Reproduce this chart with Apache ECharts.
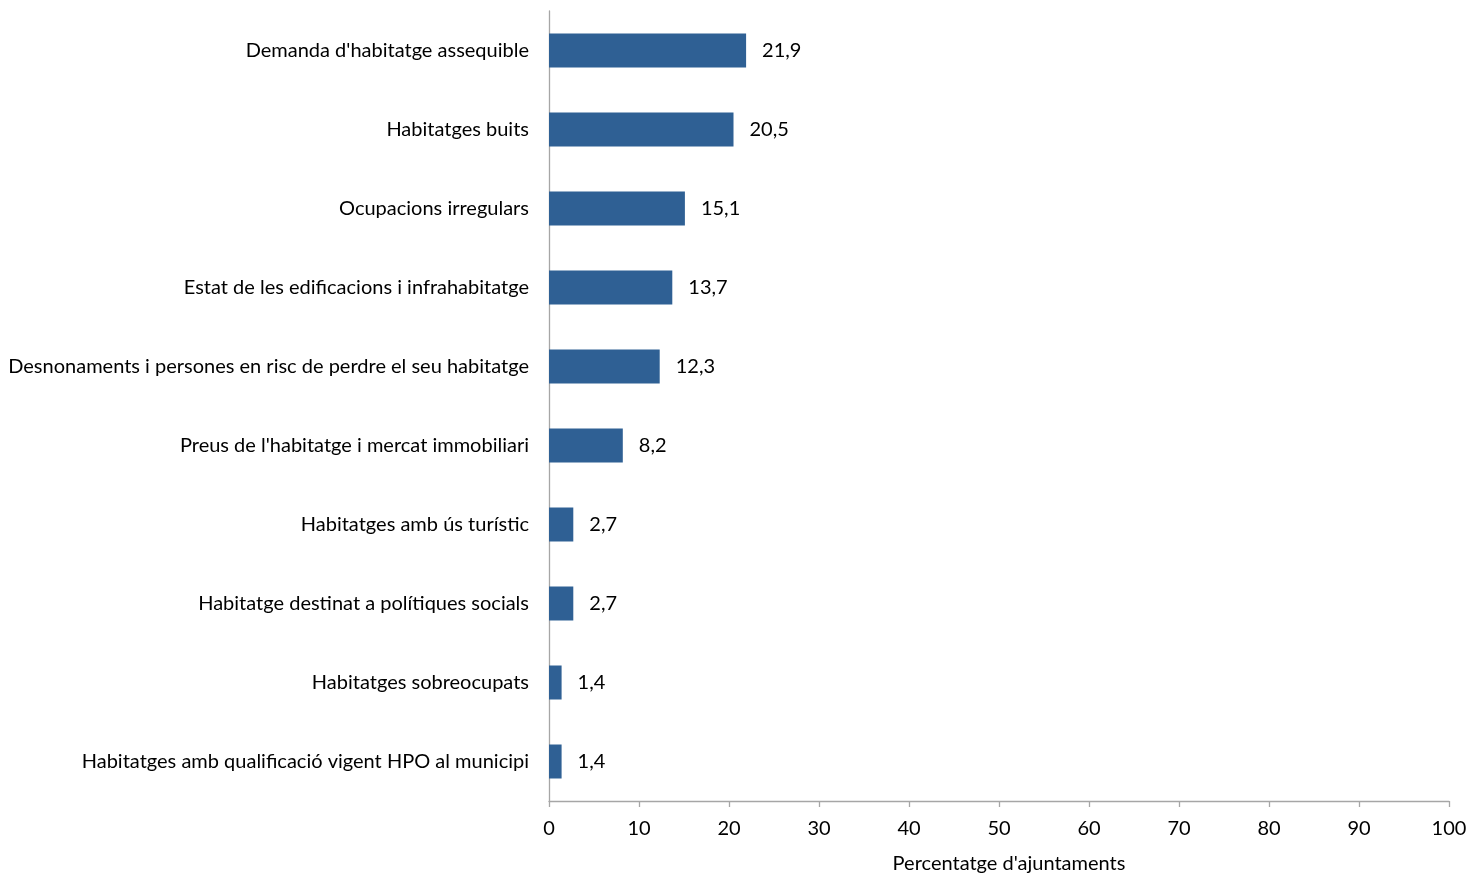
<!DOCTYPE html>
<html><head><meta charset="utf-8">
<script src="https://cdn.jsdelivr.net/npm/echarts@6/dist/echarts.min.js"></script>
<style>html,body{margin:0;padding:0;background:#fff}#c{width:1470px;height:873px}</style>
</head><body><div id="c"></div>
<script>
const categories = [
  "Demanda d'habitatge assequible",
  "Habitatges buits",
  "Ocupacions irregulars",
  "Estat de les edificacions i infrahabitatge",
  "Desnonaments i persones en risc de perdre el seu habitatge",
  "Preus de l'habitatge i mercat immobiliari",
  "Habitatges amb ús turístic",
  "Habitatge destinat a polítiques socials",
  "Habitatges sobreocupats",
  "Habitatges amb qualificació vigent HPO al municipi"
];
const values = [21.9, 20.5, 15.1, 13.7, 12.3, 8.2, 2.7, 2.7, 1.4, 1.4];
const xTicks = [0, 10, 20, 30, 40, 50, 60, 70, 80, 90, 100];
const xAxisName = "Percentatge d'ajuntaments";

const FONT = 'Lato, "Open Sans", sans-serif';
const FS = 20;
const chart = echarts.init(document.getElementById('c'));
chart.setOption({
  animation: false,
  grid: {left: 549, right: 21, top: 11, bottom: 72, containLabel: false, outerBoundsMode: 'none'},
  xAxis: {
    type: 'value', min: xTicks[0], max: xTicks[xTicks.length-1], interval: 10,
    name: xAxisName, nameLocation: 'middle', nameGap: 53,
    nameTextStyle: {fontFamily: FONT, fontSize: FS, color: '#000', padding: [0,0,0,20]},
    axisLine: {show: true, lineStyle: {color: '#a6a6a6', width: 1.3}},
    axisTick: {show: true, length: 6, lineStyle: {color: '#a6a6a6', width: 1.3}},
    axisLabel: {fontFamily: FONT, fontSize: FS, color: '#000', margin: 18},
    splitLine: {show: false}
  },
  yAxis: {
    type: 'category', data: categories, inverse: true,
    axisLine: {show: true, lineStyle: {color: '#a6a6a6', width: 1.3}},
    axisTick: {show: false},
    axisLabel: {fontFamily: FONT, fontSize: FS, color: '#000', margin: 20}
  },
  series: [{
    type: 'bar', data: values, barWidth: 34,
    itemStyle: {color: '#2f6094'},
    label: {show: true, position: 'right', distance: 16, fontFamily: FONT, fontSize: FS, color: '#000',
      formatter: p => p.value.toFixed(1).replace('.', ',')}
  }]
});
</script></body></html>
